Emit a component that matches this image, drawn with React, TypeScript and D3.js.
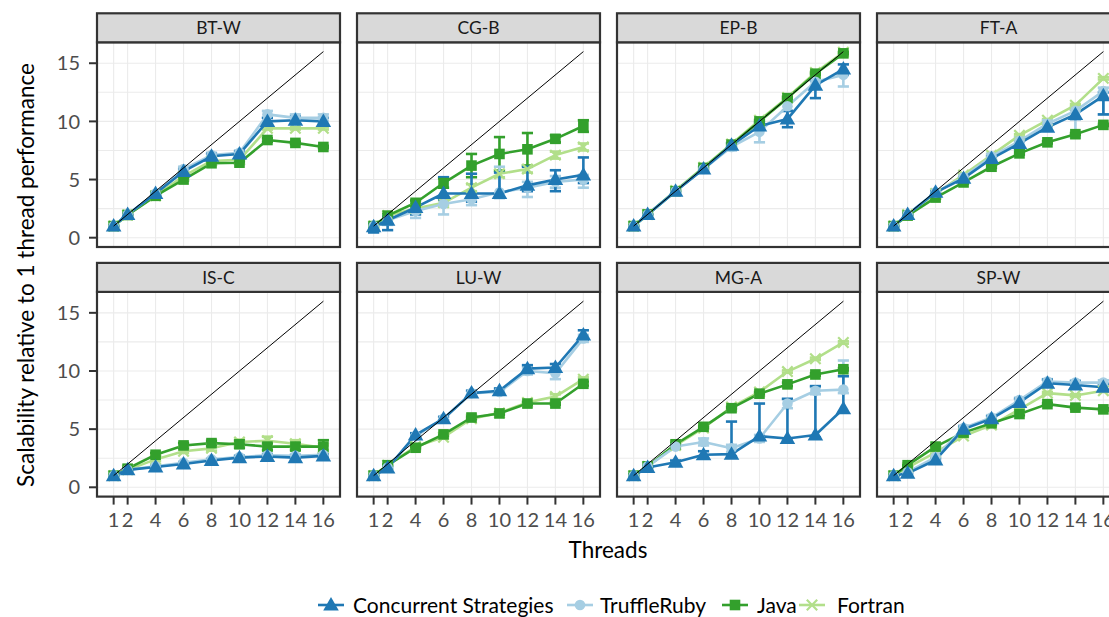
import * as d3 from "d3";

const threads = [1, 2, 4, 6, 8, 10, 12, 14, 16];
const benchmarks = ["BT-W", "CG-B", "EP-B", "FT-A", "IS-C", "LU-W", "MG-A", "SP-W"];
const seriesNames = ["Concurrent Strategies", "TruffleRuby", "Java", "Fortran"];
const seriesColors = ["#1F78B4", "#A6CEE3", "#33A02C", "#B2DF8A"];
const yTicks = [0, 5, 10, 15];

// mean speedup, one row per benchmark (same order as `benchmarks`)
const concurrentStrategies = [
  [1.0, 2.0, 3.8, 5.7, 7.0, 7.2, 10.0, 10.1, 10.0],
  [0.95, 1.5, 2.6, 3.8, 3.8, 3.8, 4.5, 5.0, 5.4],
  [1.0, 2.0, 4.0, 5.9, 7.95, 9.6, 10.2, 13.1, 14.5],
  [1.0, 2.0, 3.9, 5.1, 6.8, 8.1, 9.5, 10.6, 12.2],
  [1.0, 1.5, 1.75, 2.0, 2.3, 2.55, 2.65, 2.55, 2.7],
  [1.0, 1.65, 4.5, 5.9, 8.1, 8.3, 10.2, 10.3, 13.1],
  [1.0, 1.7, 2.15, 2.8, 2.85, 4.4, 4.2, 4.5, 6.75],
  [1.0, 1.2, 2.35, 5.0, 5.9, 7.3, 8.95, 8.8, 8.6],
];
const truffleRuby = [
  [1.0, 2.0, 3.8, 5.9, 7.1, 7.3, 10.6, 10.3, 10.3],
  [1.0, 1.5, 2.3, 2.9, 3.3, 3.9, 4.3, 4.8, 5.0],
  [1.0, 2.0, 4.0, 5.9, 7.8, 9.1, 11.3, 13.4, 14.0],
  [1.0, 2.0, 3.9, 5.2, 7.0, 8.3, 9.8, 10.9, 12.6],
  [1.0, 1.5, 1.8, 2.1, 2.4, 2.6, 2.75, 2.7, 2.8],
  [1.0, 1.7, 4.4, 5.9, 8.1, 8.2, 10.0, 9.8, 12.8],
  [1.0, 1.8, 3.5, 3.9, 3.35, 4.2, 7.2, 8.3, 8.4],
  [1.0, 1.3, 2.6, 5.1, 6.0, 7.5, 9.1, 9.0, 9.0],
];
const java = [
  [1.0, 1.95, 3.6, 5.0, 6.4, 6.45, 8.4, 8.15, 7.8],
  [1.0, 1.9, 3.0, 4.7, 6.2, 7.2, 7.6, 8.5, 9.6],
  [1.0, 2.0, 4.0, 6.0, 8.0, 10.0, 12.0, 14.1, 15.85],
  [1.0, 1.9, 3.45, 4.75, 6.1, 7.25, 8.2, 8.9, 9.7],
  [1.0, 1.6, 2.8, 3.6, 3.8, 3.7, 3.5, 3.5, 3.5],
  [1.0, 1.9, 3.4, 4.55, 6.0, 6.35, 7.2, 7.2, 8.9],
  [1.0, 1.8, 3.7, 5.2, 6.8, 8.05, 8.85, 9.7, 10.15],
  [1.0, 1.9, 3.5, 4.7, 5.5, 6.3, 7.15, 6.85, 6.7],
];
const fortran = [
  [1.0, 1.95, 3.6, 5.3, 6.6, 6.7, 9.4, 9.4, 9.4],
  [1.0, 1.9, 2.5, 3.0, 4.3, 5.5, 5.9, 7.1, 7.8],
  [1.0, 2.0, 4.05, 6.05, 8.05, 10.1, 12.05, 14.2, 15.95],
  [1.0, 2.0, 3.8, 5.4, 7.1, 8.8, 10.1, 11.4, 13.7],
  [1.0, 1.5, 2.4, 3.1, 3.35, 3.9, 4.0, 3.75, 3.4],
  [1.0, 1.9, 3.5, 4.3, 5.9, 6.4, 7.3, 7.8, 9.3],
  [1.0, 1.8, 3.6, 5.1, 6.9, 8.2, 9.95, 11.05, 12.45],
  [1.0, 1.7, 3.0, 4.4, 5.35, 6.7, 8.1, 7.9, 8.3],
];

// error bar extent: one number = symmetric, [down, up] otherwise
type Err = number | [number, number];
const concurrentStrategiesErr: Err[][] = [
  [0.05, 0.05, 0.1, 0.2, 0.2, 0.2, 0.3, 0.3, 0.3],
  [[0.5, 0.3], [0.85, 0.3], [0.6, 0.3], [0.5, 1.4], [0.7, 1.7], [0.3, 1.8], [0.5, 1.6], [1.0, 0.8], [0.7, 1.5]],
  [0.05, 0.05, 0.1, 0.15, 0.2, 0.3, [0.7, 0.7], [1.1, 0.4], [0.5, 0.4]],
  [0.05, 0.05, 0.1, 0.1, 0.2, [0.5, 0.2], 0.3, 0.4, [1.6, 0.3]],
  [0.05, 0.1, 0.1, 0.1, 0.1, 0.15, 0.15, 0.2, 0.15],
  [0.05, 0.1, 0.15, 0.15, 0.2, 0.2, 0.3, 0.3, 0.4],
  [0.1, 0.1, 0.15, 0.3, [0.2, 2.8], [0.2, 2.8], [0.2, 3.4], [0.2, 4.2], [0.3, 2.8]],
  [0.05, 0.1, 0.15, 0.2, 0.2, 0.3, 0.3, 0.3, 0.3],
];
const truffleRubyErr: Err[][] = [
  [0.05, 0.05, 0.1, 0.2, 0.2, 0.2, 0.3, 0.3, 0.3],
  [0.3, 0.4, [0.6, 0.2], [0.9, 0.5], [0.5, 0.5], [0.5, 2.2], [0.8, 0.5], [0.5, 0.5], [0.7, 0.4]],
  [0.05, 0.05, 0.1, 0.1, 0.3, [0.9, 0.3], 0.4, 0.3, [1.0, 0.3]],
  [0.05, 0.05, 0.1, 0.1, 0.2, 0.3, 0.3, [2.3, 0.3], [2.0, 0.3]],
  [0.05, 0.1, 0.1, 0.1, 0.1, 0.1, 0.15, 0.15, 0.15],
  [0.05, 0.1, 0.1, 0.15, 0.2, 0.2, 0.3, [0.5, 0.2], 0.3],
  [0.1, 0.1, 0.2, 0.3, 0.3, 0.3, 0.4, 0.3, [0.3, 2.5]],
  [0.05, 0.1, 0.15, 0.2, 0.2, 0.2, 0.2, 0.2, 0.2],
];
const javaErr: Err[][] = [
  [0.05, 0.05, 0.1, 0.1, 0.1, 0.1, 0.15, 0.1, 0.1],
  [0.1, 0.1, 0.2, 0.4, 1.0, 1.45, 1.4, 0.3, 0.5],
  [0.05, 0.05, 0.05, 0.1, 0.1, 0.1, 0.1, 0.1, 0.1],
  [0.05, 0.05, 0.1, 0.1, 0.1, 0.1, 0.1, 0.1, 0.1],
  [0.05, 0.1, 0.15, 0.2, 0.2, 0.3, 0.3, 0.3, 0.55],
  [0.05, 0.05, 0.1, 0.1, 0.1, 0.1, 0.1, 0.1, 0.15],
  [0.05, 0.05, 0.1, 0.1, 0.1, 0.1, 0.15, 0.1, 0.1],
  [0.05, 0.05, 0.1, 0.1, 0.1, 0.1, 0.1, 0.1, 0.1],
];
const fortranErr: Err[][] = [
  [0.05, 0.05, 0.1, 0.1, 0.1, 0.1, 0.1, 0.1, 0.1],
  [0.1, 0.1, 0.2, 0.2, 0.3, 0.3, 0.3, 0.3, 0.3],
  [0.05, 0.05, 0.05, 0.1, 0.1, 0.1, 0.1, 0.1, 0.1],
  [0.05, 0.05, 0.1, 0.1, 0.1, 0.1, 0.1, 0.1, 0.1],
  [0.05, 0.1, 0.15, 0.15, 0.2, 0.2, 0.35, 0.3, 0.2],
  [0.05, 0.05, 0.1, 0.1, 0.1, 0.1, 0.1, 0.2, 0.15],
  [0.05, 0.05, 0.1, 0.1, 0.1, 0.1, 0.1, 0.1, 0.1],
  [0.05, 0.05, 0.1, 0.1, 0.1, 0.1, 0.1, 0.1, 0.1],
];

const seriesValues = [concurrentStrategies, truffleRuby, java, fortran];
const seriesErrs = [concurrentStrategiesErr, truffleRubyErr, javaErr, fortranErr];

const W = 1109;
const H = 617;
const FONT = "Lato, 'Noto Sans', sans-serif";
const panelLefts = [97, 357, 617, 877];
const panelTops = [42.3, 291.9];
const panelW = 243;
const panelH = 204.7;
const stripH = 29;

const x = d3.scaleLinear().domain([-0.19, 17.19]).range([0, panelW]);
const y = d3.scaleLinear().domain([-0.8, 16.8]).range([panelH, 0]);
const gridY = d3.range(0, 16, 2.5);

const line = d3
  .line<[number, number]>()
  .x((d) => x(d[0]))
  .y((d) => y(d[1]));

function Marker({ s, cx, cy }: { s: number; cx: number; cy: number }) {
  const c = seriesColors[s];
  if (s === 0) {
    const p = d3.symbol().type(d3.symbolTriangle).size(105)()!;
    return <path d={p} transform={`translate(${cx},${cy + 1})`} fill={c} />;
  }
  if (s === 1) return <circle cx={cx} cy={cy} r={5.3} fill={c} />;
  if (s === 2) return <rect x={cx - 5.3} y={cy - 5.3} width={10.6} height={10.6} fill={c} />;
  const r = 5.2;
  return (
    <path
      d={`M${cx - r},${cy - r}L${cx + r},${cy + r}M${cx - r},${cy + r}L${cx + r},${cy - r}`}
      stroke={c}
      strokeWidth={2.2}
      fill="none"
    />
  );
}

function Panel({ bi }: { bi: number }) {
  const col = bi % 4;
  const row = Math.floor(bi / 4);
  const left = panelLefts[col];
  const top = panelTops[row];
  const order = [3, 2, 1, 0];
  return (
    <g transform={`translate(${left},${top})`}>
      <rect width={panelW} height={panelH} fill="#fff" />
      {gridY.map((v) => (
        <line key={`gy${v}`} x1={0} x2={panelW} y1={y(v)} y2={y(v)} stroke="#EBEBEB" strokeWidth={1.1} />
      ))}
      {threads.map((t) => (
        <line key={`gx${t}`} x1={x(t)} x2={x(t)} y1={0} y2={panelH} stroke="#EBEBEB" strokeWidth={1.1} />
      ))}
      {order.map((s) =>
        threads.map((t, i) => {
          const v = seriesValues[s][bi][i];
          const e = seriesErrs[s][bi][i];
          const [dn, up] = typeof e === "number" ? [e, e] : e;
          const y0 = y(v - dn);
          const y1 = y(v + up);
          const c = seriesColors[s];
          return (
            <g key={`e${s}-${i}`} stroke={c} strokeWidth={2.6} fill="none">
              <line x1={x(t)} x2={x(t)} y1={y0} y2={y1} />
              <line x1={x(t - 0.4)} x2={x(t + 0.4)} y1={y0} y2={y0} />
              <line x1={x(t - 0.4)} x2={x(t + 0.4)} y1={y1} y2={y1} />
            </g>
          );
        })
      )}
      {order.map((s) => (
        <path
          key={`l${s}`}
          d={line(threads.map((t, i) => [t, seriesValues[s][bi][i]]))!}
          fill="none"
          stroke={seriesColors[s]}
          strokeWidth={2.6}
          strokeLinejoin="round"
        />
      ))}
      {order.map((s) =>
        threads.map((t, i) => (
          <Marker key={`m${s}-${i}`} s={s} cx={x(t)} cy={y(seriesValues[s][bi][i])} />
        ))
      )}
      <line x1={x(1)} y1={y(1)} x2={x(16)} y2={y(16)} stroke="#000" strokeWidth={1} />
      <rect width={panelW} height={panelH} fill="none" stroke="#333" strokeWidth={2.2} />
      <rect y={-stripH} width={panelW} height={stripH} fill="#D9D9D9" stroke="#333" strokeWidth={2.2} />
      <text
        x={panelW / 2}
        y={-stripH / 2}
        dy="0.36em"
        textAnchor="middle"
        fontSize={17.5}
        fill="#1A1A1A"
      >
        {benchmarks[bi]}
      </text>
      {col === 0 &&
        yTicks.map((v) => (
          <g key={`yt${v}`}>
            <line x1={-8} x2={0} y1={y(v)} y2={y(v)} stroke="#333" strokeWidth={2} />
            <text x={-17} y={y(v)} dy="0.36em" textAnchor="end" fontSize={20} fill="#4D4D4D">
              {v}
            </text>
          </g>
        ))}
      {row === 1 &&
        threads.map((t) => (
          <g key={`xt${t}`}>
            <line x1={x(t)} x2={x(t)} y1={panelH} y2={panelH + 8} stroke="#333" strokeWidth={2} />
            <text x={x(t)} y={panelH + 23} dy="0.36em" textAnchor="middle" fontSize={20} fill="#4D4D4D">
              {t}
            </text>
          </g>
        ))}
    </g>
  );
}

// legend key positions
const legendKeyX = [331, 580, 735, 812];
const legendTextX = [353, 600, 757, 837];

export default function App() {
  const ly = 605;
  return (
    <svg
      width={W}
      height={H}
      style={{ position: "absolute", left: 0, top: 0, background: "#fff" }}
      fontFamily={FONT}
    >
      <rect width={W} height={H} fill="#fff" />
      {benchmarks.map((b, i) => (
        <Panel key={b} bi={i} />
      ))}
      <text
        transform={`translate(34,275) rotate(-90)`}
        textAnchor="middle"
        fontSize={22.5}
        fill="#000"
      >
        Scalability relative to 1 thread performance
      </text>
      <text x={608} y={550} dy="0.36em" textAnchor="middle" fontSize={22.5} fill="#000">
        Threads
      </text>
      {seriesNames.map((n, s) => (
        <g key={n}>
          <line
            x1={legendKeyX[s] - 13}
            x2={legendKeyX[s] + 13}
            y1={ly}
            y2={ly}
            stroke={seriesColors[s]}
            strokeWidth={2.6}
          />
          <Marker s={s} cx={legendKeyX[s]} cy={ly} />
          <text x={legendTextX[s]} y={ly} dy="0.36em" fontSize={21} fill="#000">
            {n}
          </text>
        </g>
      ))}
    </svg>
  );
}
